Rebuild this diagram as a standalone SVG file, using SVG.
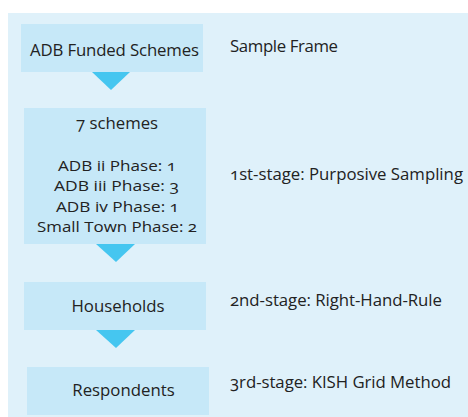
<svg xmlns="http://www.w3.org/2000/svg" width="468" height="417" viewBox="0 0 468 417">
<style>
.box{fill:#c6e8f8}
.tri{fill:#45c6f0}
text{font-family:"Open Sans","Noto Sans",sans-serif;font-size:16.8px;fill:#222;font-variant-numeric:oldstyle-nums}
.c{text-anchor:middle}
.s{font-size:15px}
</style>
<rect width="468" height="417" fill="#ffffff"/>
<rect x="8" y="13" width="460" height="404" fill="#dff1fa"/>
<g id="connectors">
<polygon class="tri" points="92,72 130,72 111,90"/>
<polygon class="tri" points="96,244 135,244 116,262"/>
<polygon class="tri" points="96,330 135,330 116,348"/>
</g>
<g id="node-adb">
<rect class="box" x="21" y="24" width="182" height="48"/>
<text class="c" x="114.5" y="55.5" textLength="169">ADB Funded Schemes</text>
</g>
<g id="node-schemes">
<rect class="box" x="24" y="108" width="182" height="136"/>
<text class="c" x="117" y="129">7 schemes</text>
<text class="c s" x="117" y="170.5" textLength="118" lengthAdjust="spacingAndGlyphs">ADB ii Phase: 1</text>
<text class="c s" x="116.5" y="191" textLength="125" lengthAdjust="spacingAndGlyphs">ADB iii Phase: 3</text>
<text class="c s" x="117.5" y="211.5" textLength="123" lengthAdjust="spacingAndGlyphs">ADB iv Phase: 1</text>
<text class="c s" x="117" y="232" textLength="160" lengthAdjust="spacingAndGlyphs">Small Town Phase: 2</text>
</g>
<g id="node-households">
<rect class="box" x="24" y="282" width="182" height="48"/>
<text class="c" x="118" y="311.5">Households</text>
</g>
<g id="node-respondents">
<rect class="box" x="27" y="367" width="182" height="48"/>
<text class="c" x="123.5" y="396">Respondents</text>
</g>
<g id="labels">
<text x="230" y="52" textLength="108">Sample Frame</text>
<text x="230" y="180" textLength="233">1st-stage: Purposive Sampling</text>
<text x="230" y="305.5" textLength="212">2nd-stage: Right-Hand-Rule</text>
<text x="230" y="388" textLength="221">3rd-stage: KISH Grid Method</text>
</g>
</svg>
